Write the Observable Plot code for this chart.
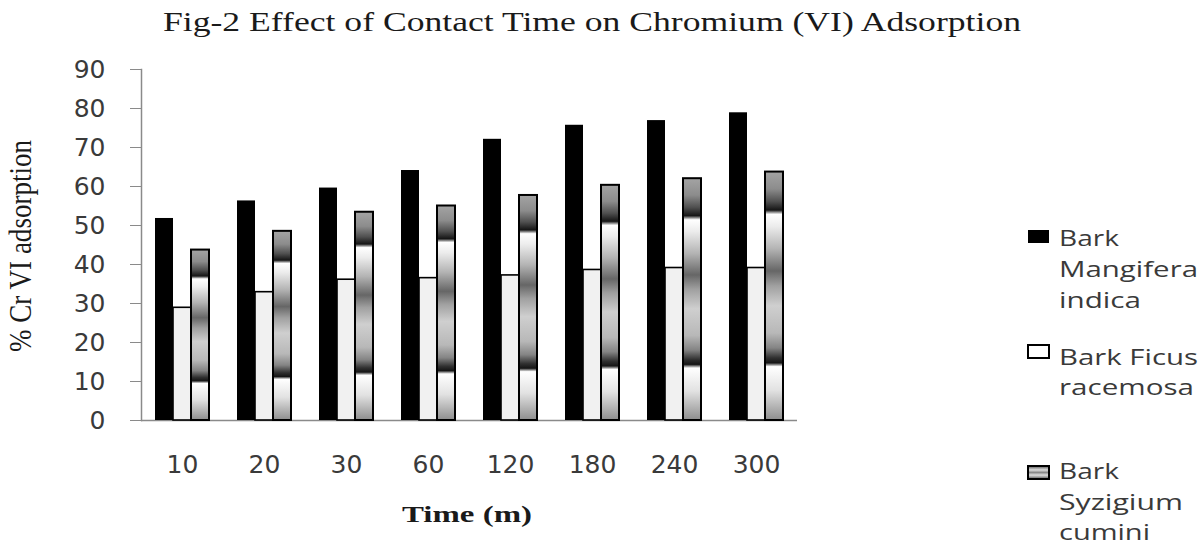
<!DOCTYPE html>
<html>
<head>
<meta charset="utf-8">
<script src="https://cdn.jsdelivr.net/npm/d3@7"></script>
<script src="https://cdn.jsdelivr.net/npm/@observablehq/plot@0.6"></script>
<style>
  html, body { margin: 0; padding: 0; background: #ffffff; }
  #chart { width: 1200px; height: 546px; overflow: hidden; }
</style>
</head>
<body>
<div id="chart"></div>
<script>
// ---- data ----
const times = ["10", "20", "30", "60", "120", "180", "240", "300"];
const mangifera = [51.8, 56.3, 59.6, 64.1, 72.1, 75.7, 76.9, 78.9];
const ficus = [28.9, 32.9, 36.1, 36.5, 37.2, 38.6, 39.1, 39.1];
const syzigium = [43.7, 48.5, 53.4, 55.0, 57.7, 60.3, 62.0, 63.7];
const seriesNames = ["Bark Mangifera indica", "Bark Ficus racemosa", "Bark Syzigium cumini"];
const yTicks = [0, 10, 20, 30, 40, 50, 60, 70, 80, 90];

const titleText = "Fig-2 Effect of Contact Time on Chromium (VI) Adsorption";
const yLabel = "% Cr VI adsorption";
const xLabel = "Time (m)";
const legendLines = [
  ["Bark", "Mangifera", "indica"],
  ["Bark Ficus", "racemosa"],
  ["Bark", "Syzigium", "cumini"]
];

const rows = times.flatMap((t, i) => [
  {time: t, series: seriesNames[0], value: mangifera[i]},
  {time: t, series: seriesNames[1], value: ficus[i]},
  {time: t, series: seriesNames[2], value: syzigium[i]}
]);
const bySeries = s => rows.filter(d => d.series === s);

const axisGrey = "#8a8a8a";
const textGrey = "#3a3a3a";

const plot = Plot.plot({
  width: 1200,
  height: 546,
  marginTop: 69,
  marginBottom: 126,
  marginLeft: 139,
  marginRight: 402,
  style: {fontFamily: "DejaVu Sans", fontSize: "25px", background: "#ffffff", color: textGrey},
  fx: {domain: times, padding: 0, label: null},
  x: {domain: seriesNames, paddingInner: 0, paddingOuter: 0.705, axis: null},
  y: {domain: [0, 90], label: null},
  marks: [
    Plot.ruleY([0], {stroke: axisGrey, strokeWidth: 1.5}),
    Plot.barY(bySeries(seriesNames[0]), {fx: "time", x: "series", y: "value", fill: "#000000"}),
    Plot.barY(bySeries(seriesNames[1]), {fx: "time", x: "series", y: "value", fill: "#f1f1f1", stroke: "#000000", strokeWidth: 1.6}),
    Plot.barY(bySeries(seriesNames[2]), {fx: "time", x: "series", y: "value", fill: "url(#syzGrad)", stroke: "#000000", strokeWidth: 2}),
    Plot.frame({anchor: "left", facetAnchor: "left", stroke: axisGrey, strokeWidth: 1.5}),
    Plot.axisY({ticks: yTicks, tickSize: 11, tickPadding: 25, stroke: axisGrey, fill: textGrey, label: null}),
    Plot.axisFx({anchor: "bottom", tickSize: 0, tickPadding: 35, fill: textGrey, label: null})
  ]
});
document.getElementById("chart").appendChild(plot);

// ---- gradient for the Syzigium bars ----
const svg = d3.select(plot);
const gradStops = [
  [0.00, "#a4a4a4"], [0.07, "#8c8c8c"], [0.12, "#505050"], [0.155, "#151515"],
  [0.172, "#ffffff"], [0.22, "#ececec"], [0.31, "#b4b4b4"], [0.40, "#666666"],
  [0.46, "#a0a0a0"], [0.54, "#cfcfcf"], [0.65, "#b8b8b8"], [0.71, "#848484"],
  [0.75, "#303030"], [0.77, "#151515"], [0.785, "#ffffff"], [0.88, "#e2e2e2"],
  [1.00, "#8e8e8e"]
];
const defs = svg.insert("defs", ":first-child");
const lg = defs.append("linearGradient").attr("id", "syzGrad")
  .attr("x1", 0).attr("y1", 0).attr("x2", 0).attr("y2", 1);
gradStops.forEach(([o, c]) => lg.append("stop").attr("offset", o).attr("stop-color", c));
const lg2 = defs.append("linearGradient").attr("id", "syzLegend")
  .attr("x1", 0).attr("y1", 0).attr("x2", 0).attr("y2", 1);
[[0, "#555"], [0.3, "#ddd"], [0.5, "#888"], [0.7, "#ddd"], [1, "#555"]]
  .forEach(([o, c]) => lg2.append("stop").attr("offset", o).attr("stop-color", c));

// ---- titles ----
svg.append("text")
  .attr("x", 592).attr("y", 31)
  .attr("text-anchor", "middle")
  .attr("font-family", "Liberation Serif")
  .attr("font-size", 27)
  .attr("fill", "#1a1a1a")
  .attr("textLength", 858).attr("lengthAdjust", "spacingAndGlyphs")
  .text(titleText);

svg.append("text")
  .attr("transform", "translate(31,246) scale(1.3,1) rotate(-90)")
  .attr("text-anchor", "middle")
  .attr("font-family", "Liberation Serif")
  .attr("font-size", 25)
  .attr("fill", "#1a1a1a")
  .attr("textLength", 212).attr("lengthAdjust", "spacingAndGlyphs")
  .text(yLabel);

svg.append("text")
  .attr("x", 467).attr("y", 522)
  .attr("text-anchor", "middle")
  .attr("font-family", "Liberation Serif")
  .attr("font-weight", "bold")
  .attr("font-size", 23)
  .attr("fill", "#1a1a1a")
  .attr("textLength", 130).attr("lengthAdjust", "spacingAndGlyphs")
  .text(xLabel);

// ---- legend ----
const legendSwatch = [
  {y: 230, fill: "#000000", stroke: "none"},
  {y: 345, fill: "#ffffff", stroke: "#000000"},
  {y: 466, fill: "url(#syzLegend)", stroke: "#000000"}
];
const legendBaselines = [[246, 277, 308], [365, 395], [479, 510, 540]];
const legendWidths = [[60, 139, 82], [139, 135], [60, 124, 91]];
const leg = svg.append("g").attr("aria-label", "legend").attr("text-anchor", "start");
legendLines.forEach((lines, i) => {
  leg.append("rect")
    .attr("x", 1028).attr("y", legendSwatch[i].y)
    .attr("width", 21).attr("height", 13)
    .attr("fill", legendSwatch[i].fill)
    .attr("stroke", legendSwatch[i].stroke)
    .attr("stroke-width", 2);
  lines.forEach((line, j) => {
    leg.append("text")
      .attr("x", 1059).attr("y", legendBaselines[i][j])
      .attr("text-anchor", "start")
      .attr("font-family", "Open Sans")
      .attr("font-size", 21)
      .attr("fill", textGrey)
      .attr("textLength", legendWidths[i][j]).attr("lengthAdjust", "spacingAndGlyphs")
      .text(line);
  });
});
</script>
</body>
</html>
